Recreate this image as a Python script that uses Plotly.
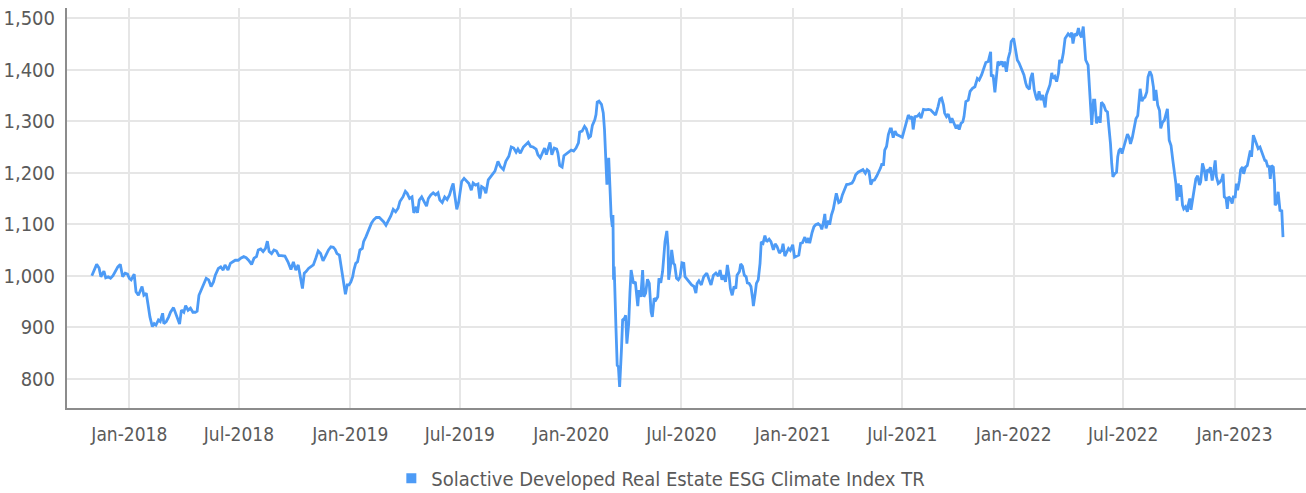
import plotly.graph_objects as go

# Solactive Developed Real Estate ESG Climate Index TR, index level readings
dates = [
    # 2017-2018
    "2017-10-31", "2017-11-08", "2017-11-12", "2017-11-15", "2017-11-20", "2017-11-23", "2017-11-27", "2017-12-01",
    "2017-12-05", "2017-12-09", "2017-12-13", "2017-12-17", "2017-12-21", "2017-12-25", "2017-12-29", "2018-01-01",
    "2018-01-04", "2018-01-09", "2018-01-12", "2018-01-16", "2018-01-19", "2018-01-22", "2018-01-25", "2018-01-29",
    "2018-02-01", "2018-02-04", "2018-02-08", "2018-02-11", "2018-02-14", "2018-02-18", "2018-02-21", "2018-02-25",
    "2018-02-27", "2018-03-03", "2018-03-07", "2018-03-10", "2018-03-15", "2018-03-18", "2018-03-21", "2018-03-25",
    "2018-03-28", "2018-04-01", "2018-04-04", "2018-04-08", "2018-04-12", "2018-04-16", "2018-04-20", "2018-04-23",
    "2018-04-26", "2018-05-01", "2018-05-04", "2018-05-08", "2018-05-12", "2018-05-16", "2018-05-20", "2018-05-23",
    "2018-05-28", "2018-06-01", "2018-06-05", "2018-06-08", "2018-06-13", "2018-06-17", "2018-06-21", "2018-06-25",
    "2018-06-30", "2018-07-04", "2018-07-09", "2018-07-13", "2018-07-17", "2018-07-22", "2018-07-26", "2018-07-30",
    "2018-08-02", "2018-08-06", "2018-08-10", "2018-08-14", "2018-08-17", "2018-08-20", "2018-08-24", "2018-08-28",
    "2018-09-01", "2018-09-05", "2018-09-09",
    "2018-09-15", "2018-09-20", "2018-09-25", "2018-09-29", "2018-10-03", "2018-10-07", "2018-10-11", "2018-10-14",
    "2018-10-17", "2018-10-20", "2018-10-24", "2018-10-28", "2018-11-01", "2018-11-05", "2018-11-09", "2018-11-13",
    "2018-11-17", "2018-11-21", "2018-11-26", "2018-11-30", "2018-12-04", "2018-12-07", "2018-12-10", "2018-12-14",
    "2018-12-16", "2018-12-19", "2018-12-22", "2018-12-24", "2018-12-27", "2018-12-30",
    # 2019
    "2019-01-02", "2019-01-05",
    "2019-01-07", "2019-01-10", "2019-01-13", "2019-01-17", "2019-01-21", "2019-01-23", "2019-01-27", "2019-01-29",
    "2019-02-01", "2019-02-05", "2019-02-09", "2019-02-13", "2019-02-18", "2019-02-22", "2019-02-25", "2019-03-01",
    "2019-03-05", "2019-03-09", "2019-03-13", "2019-03-17", "2019-03-21", "2019-03-24", "2019-03-29", "2019-04-02",
    "2019-04-05", "2019-04-09", "2019-04-13", "2019-04-16", "2019-04-20", "2019-04-22", "2019-04-25", "2019-04-29",
    "2019-05-03", "2019-05-07", "2019-05-10", "2019-05-14", "2019-05-18", "2019-05-22", "2019-05-26", "2019-05-29",
    "2019-06-02", "2019-06-06", "2019-06-10", "2019-06-14", "2019-06-18", "2019-06-20", "2019-06-23", "2019-06-26",
    "2019-06-29", "2019-07-01", "2019-07-04", "2019-07-08", "2019-07-12", "2019-07-16", "2019-07-20", "2019-07-23",
    "2019-07-27", "2019-07-31", "2019-08-03", "2019-08-06", "2019-08-10", "2019-08-13", "2019-08-17", "2019-08-21",
    "2019-08-28", "2019-09-02", "2019-09-06", "2019-09-11", "2019-09-15", "2019-09-20", "2019-09-24", "2019-09-28",
    "2019-10-02", "2019-10-05", "2019-10-09", "2019-10-14", "2019-10-18", "2019-10-22", "2019-10-26", "2019-10-30",
    "2019-11-04", "2019-11-07", "2019-11-11", "2019-11-15", "2019-11-18", "2019-11-21", "2019-11-24", "2019-11-27",
    "2019-11-30", "2019-12-04", "2019-12-08", "2019-12-10", "2019-12-13", "2019-12-17", "2019-12-20", "2019-12-24",
    "2019-12-29",
    # 2020
    "2020-01-01", "2020-01-05", "2020-01-09", "2020-01-13", "2020-01-15", "2020-01-19", "2020-01-23",
    "2020-01-26", "2020-01-30", "2020-02-02", "2020-02-05", "2020-02-09", "2020-02-11", "2020-02-13", "2020-02-16",
    "2020-02-20", "2020-02-23", "2020-02-25", "2020-02-27", "2020-02-29", "2020-03-01", "2020-03-03", "2020-03-05",
    "2020-03-07", "2020-03-09", "2020-03-10", "2020-03-11", "2020-03-12", "2020-03-15", "2020-03-17", "2020-03-19",
    "2020-03-21", "2020-03-24", "2020-03-26", "2020-03-29", "2020-03-31", "2020-04-02", "2020-04-05", "2020-04-07",
    "2020-04-09", "2020-04-11", "2020-04-13", "2020-04-16", "2020-04-18", "2020-04-20", "2020-04-22", "2020-04-25",
    "2020-04-28", "2020-04-30", "2020-05-03", "2020-05-06", "2020-05-09", "2020-05-12", "2020-05-14", "2020-05-17",
    "2020-05-20", "2020-05-23", "2020-05-25", "2020-05-28", "2020-05-31", "2020-06-02", "2020-06-04", "2020-06-07",
    "2020-06-09", "2020-06-10", "2020-06-13", "2020-06-15", "2020-06-18", "2020-06-20", "2020-06-23", "2020-06-26",
    "2020-06-29", "2020-07-02", "2020-07-05", "2020-07-07", "2020-07-11", "2020-07-14", "2020-07-18", "2020-07-22",
    "2020-07-25", "2020-07-27", "2020-07-30",
    "2020-08-03", "2020-08-07", "2020-08-12", "2020-08-15", "2020-08-19", "2020-08-23", "2020-08-27", "2020-08-31",
    "2020-09-03", "2020-09-06", "2020-09-09", "2020-09-12", "2020-09-15", "2020-09-18", "2020-09-20", "2020-09-23",
    "2020-09-26", "2020-09-29", "2020-10-01", "2020-10-05", "2020-10-07", "2020-10-10", "2020-10-13", "2020-10-16",
    "2020-10-18", "2020-10-21", "2020-10-24", "2020-10-27", "2020-10-28", "2020-10-31", "2020-11-02", "2020-11-05",
    "2020-11-08", "2020-11-10", "2020-11-13", "2020-11-16", "2020-11-19", "2020-11-23", "2020-11-26", "2020-11-30",
    "2020-12-03", "2020-12-06", "2020-12-10", "2020-12-14", "2020-12-16", "2020-12-19", "2020-12-22", "2020-12-25",
    "2020-12-28",
    # 2021
    "2021-01-01", "2021-01-04", "2021-01-07", "2021-01-11", "2021-01-14", "2021-01-17", "2021-01-21",
    "2021-01-24", "2021-01-27", "2021-01-29", "2021-02-02", "2021-02-05", "2021-02-08", "2021-02-12", "2021-02-16",
    "2021-02-18", "2021-02-21", "2021-02-23", "2021-02-25", "2021-03-01", "2021-03-03", "2021-03-06", "2021-03-09",
    "2021-03-12", "2021-03-14", "2021-03-18", "2021-03-21", "2021-03-24", "2021-03-28", "2021-03-31", "2021-04-04",
    "2021-04-09", "2021-04-12", "2021-04-15", "2021-04-19", "2021-04-23", "2021-04-27", "2021-05-01", "2021-05-04",
    "2021-05-07", "2021-05-10", "2021-05-13", "2021-05-16", "2021-05-20", "2021-05-23", "2021-05-26", "2021-05-28",
    "2021-05-31", "2021-06-02", "2021-06-05", "2021-06-08", "2021-06-11", "2021-06-13", "2021-06-16", "2021-06-19",
    "2021-06-22", "2021-06-26",
    "2021-07-01", "2021-07-04", "2021-07-08", "2021-07-11", "2021-07-14", "2021-07-17", "2021-07-19", "2021-07-22",
    "2021-07-26", "2021-07-29", "2021-08-01", "2021-08-05", "2021-08-09", "2021-08-13", "2021-08-17", "2021-08-21",
    "2021-08-25", "2021-08-29", "2021-09-01", "2021-09-04", "2021-09-07", "2021-09-09", "2021-09-12", "2021-09-15",
    "2021-09-19", "2021-09-21", "2021-09-25", "2021-09-28", "2021-09-30", "2021-10-03", "2021-10-06", "2021-10-09",
    "2021-10-11", "2021-10-14", "2021-10-18", "2021-10-21", "2021-10-25", "2021-10-29", "2021-11-02", "2021-11-05",
    "2021-11-09", "2021-11-13", "2021-11-16", "2021-11-20", "2021-11-24", "2021-11-25", "2021-11-28", "2021-12-01",
    "2021-12-04", "2021-12-06", "2021-12-09", "2021-12-12", "2021-12-15", "2021-12-17", "2021-12-20", "2021-12-23",
    "2021-12-26", "2021-12-28",
    # 2022
    "2022-01-01", "2022-01-05", "2022-01-07", "2022-01-10", "2022-01-14", "2022-01-18",
    "2022-01-21", "2022-01-23", "2022-01-27", "2022-01-29", "2022-02-01", "2022-02-04", "2022-02-07", "2022-02-09",
    "2022-02-12", "2022-02-15", "2022-02-18", "2022-02-20", "2022-02-22", "2022-02-24", "2022-02-27", "2022-03-02",
    "2022-03-05", "2022-03-07", "2022-03-10", "2022-03-13", "2022-03-16", "2022-03-18", "2022-03-21", "2022-03-24",
    "2022-03-27", "2022-03-29", "2022-04-01", "2022-04-04", "2022-04-07", "2022-04-09", "2022-04-12", "2022-04-15",
    "2022-04-18", "2022-04-20", "2022-04-23", "2022-04-26", "2022-04-28", "2022-04-30", "2022-05-04", "2022-05-06",
    "2022-05-08", "2022-05-10", "2022-05-13", "2022-05-15", "2022-05-18", "2022-05-22",
    "2022-05-24", "2022-05-26", "2022-05-30", "2022-06-02", "2022-06-05", "2022-06-07", "2022-06-10", "2022-06-12",
    "2022-06-14", "2022-06-17", "2022-06-20", "2022-06-22", "2022-06-24", "2022-06-27", "2022-06-29", "2022-07-02",
    "2022-07-05", "2022-07-08", "2022-07-11", "2022-07-13", "2022-07-16", "2022-07-19", "2022-07-22", "2022-07-25",
    "2022-07-27", "2022-07-29", "2022-08-01", "2022-08-03", "2022-08-06", "2022-08-09", "2022-08-11", "2022-08-14",
    "2022-08-17", "2022-08-20", "2022-08-21", "2022-08-24", "2022-08-27", "2022-08-30", "2022-09-01", "2022-09-04",
    "2022-09-07", "2022-09-10", "2022-09-12", "2022-09-15", "2022-09-18", "2022-09-21", "2022-09-23", "2022-09-26",
    "2022-09-28", "2022-09-30", "2022-10-03", "2022-10-04", "2022-10-07", "2022-10-09", "2022-10-12", "2022-10-15",
    "2022-10-17", "2022-10-19", "2022-10-21", "2022-10-24", "2022-10-26", "2022-10-29", "2022-11-01", "2022-11-04",
    "2022-11-06", "2022-11-09", "2022-11-12", "2022-11-15", "2022-11-17", "2022-11-20", "2022-11-22", "2022-11-25",
    "2022-11-27", "2022-11-30", "2022-12-02", "2022-12-05", "2022-12-08", "2022-12-11", "2022-12-13", "2022-12-15",
    "2022-12-18", "2022-12-20", "2022-12-22", "2022-12-25", "2022-12-28", "2022-12-30",
    # 2023
    "2023-01-02", "2023-01-04",
    "2023-01-06", "2023-01-09", "2023-01-11", "2023-01-14", "2023-01-16", "2023-01-19", "2023-01-22", "2023-01-25",
    "2023-01-27", "2023-01-29", "2023-02-01", "2023-02-04", "2023-02-06", "2023-02-09", "2023-02-12", "2023-02-15",
    "2023-02-17", "2023-02-20", "2023-02-22", "2023-02-25", "2023-02-27", "2023-03-01", "2023-03-03", "2023-03-06",
    "2023-03-08", "2023-03-09", "2023-03-11", "2023-03-14", "2023-03-17", "2023-03-20", "2023-03-22",
]

values = [
    # 2017-2018
    1000, 1022, 1015, 998, 1009, 996, 998, 995,
    1000, 1008, 1017, 1022, 998, 1005, 1003, 995,
    992, 1003, 969, 962, 970, 979, 962, 966,
    943, 920, 901, 907, 904, 914, 911, 927,
    907, 911, 920, 929, 938, 929, 922, 906,
    933, 929, 942, 933, 937, 929, 929, 931,
    962, 975, 982, 995, 992, 979, 988, 1001,
    1014, 1017, 1011, 1021, 1011, 1024, 1027, 1030,
    1030, 1034, 1037, 1035, 1030, 1022, 1034, 1037,
    1050, 1052, 1047, 1053, 1067, 1047, 1043, 1050,
    1048, 1039, 1039,
    1038, 1027, 1012, 1027, 1011, 1021, 995, 975,
    1005, 1008, 1014, 1017, 1021, 1034, 1048, 1043,
    1029, 1038, 1050, 1056, 1055, 1051, 1043, 1040,
    1024, 1005, 979, 964, 982, 982,
    # 2019
    988, 998,
    1011, 1024, 1027, 1050, 1053, 1066, 1076, 1082,
    1092, 1102, 1109, 1113, 1113, 1109, 1105, 1098,
    1107, 1116, 1129, 1124, 1131, 1144, 1153, 1164,
    1160, 1150, 1153, 1122, 1134, 1122, 1147, 1153,
    1144, 1135, 1150, 1157, 1161, 1157, 1161, 1147,
    1142, 1153, 1148, 1157, 1173, 1179, 1153, 1129,
    1142, 1160, 1183, 1189, 1183, 1179, 1166, 1180,
    1176, 1178, 1150, 1173, 1170, 1160, 1186, 1192,
    1203, 1222, 1212, 1206, 1222, 1232, 1250, 1248,
    1240, 1246, 1238, 1250, 1255, 1259, 1251, 1250,
    1246, 1235, 1229, 1242, 1248, 1235, 1248, 1259,
    1235, 1248, 1246, 1238, 1214, 1211, 1233, 1237,
    1242,
    # 2020
    1244, 1242, 1248, 1258, 1279, 1281, 1290,
    1285, 1268, 1271, 1292, 1303, 1313, 1337, 1339,
    1333, 1316, 1284, 1232, 1177, 1193, 1229, 1173,
    1115, 1095, 1118, 992, 1018, 897, 826, 823,
    784, 855, 914, 917, 923, 868, 907, 966,
    1011, 998, 985, 988, 966, 941, 972, 959,
    1011, 959, 966, 993, 985, 930, 920, 956,
    953, 959, 995, 986, 1008, 1044, 1066, 1087,
    1056, 992, 1018, 1050, 1024, 1021, 995, 992,
    998, 1025, 1024, 998, 992, 988, 982, 979,
    966, 985, 990,
    982, 998, 1005, 995, 982, 1001, 1005, 999,
    1011, 992, 1001, 988, 1021, 998, 975, 962,
    979, 975, 1001, 1008, 1023, 1018, 1001, 998,
    986, 985, 979, 953, 941, 966, 985, 992,
    1024, 1066, 1063, 1078, 1066, 1071, 1066, 1050,
    1062, 1057, 1044, 1050, 1062, 1038, 1047, 1053,
    1049,
    # 2021
    1060, 1036, 1038, 1040, 1063, 1064, 1075,
    1064, 1073, 1063, 1084, 1095, 1099, 1101, 1097,
    1090, 1105, 1120, 1092, 1107, 1099, 1118, 1129,
    1147, 1160, 1142, 1144, 1157, 1170, 1177, 1178,
    1180, 1186, 1196, 1201, 1203, 1206, 1199, 1206,
    1203, 1177, 1185, 1186, 1194, 1201, 1209, 1216,
    1216, 1244, 1251, 1274, 1285, 1285, 1268, 1281,
    1274, 1272,
    1269, 1282, 1297, 1312, 1306, 1309, 1284, 1309,
    1310, 1314, 1306, 1323, 1322, 1323, 1322, 1317,
    1312, 1328, 1343, 1345, 1332, 1316, 1309, 1314,
    1297, 1306, 1296, 1286, 1293, 1284, 1296, 1299,
    1309, 1338, 1341, 1358, 1364, 1367, 1383, 1380,
    1390, 1406, 1414, 1416, 1435, 1387, 1390, 1356,
    1387, 1416, 1411, 1416, 1406, 1416, 1396, 1422,
    1435, 1455,
    # 2022
    1461, 1435, 1419, 1413, 1403, 1390,
    1374, 1367, 1362, 1383, 1394, 1361, 1347, 1341,
    1358, 1341, 1351, 1341, 1327, 1351, 1361, 1371,
    1394, 1383, 1387, 1377, 1393, 1419, 1413, 1432,
    1461, 1464, 1470, 1466, 1472, 1451, 1470, 1466,
    1481, 1470, 1463, 1484, 1451, 1419, 1409, 1367,
    1322, 1293, 1341, 1341, 1296, 1309,
    1297, 1337, 1331, 1321, 1318, 1298, 1256, 1218,
    1192, 1198, 1201, 1231, 1243, 1247, 1237, 1250,
    1263, 1275, 1268, 1256, 1268, 1289, 1305, 1311,
    1340, 1363, 1339, 1344, 1347, 1357, 1386, 1397,
    1389, 1366, 1340, 1361, 1331, 1321, 1286, 1298,
    1302, 1318, 1324, 1263, 1253, 1224, 1205, 1179,
    1146, 1179, 1153, 1176, 1137, 1130, 1134, 1124,
    1140, 1150, 1128, 1153, 1172, 1188, 1194, 1176,
    1182, 1218, 1205, 1184, 1206, 1203, 1211, 1185,
    1198, 1224, 1192, 1179, 1182, 1188, 1198, 1153,
    1150, 1130, 1153, 1150, 1140, 1153,
    # 2023
    1153, 1179,
    1166, 1185, 1206, 1211, 1198, 1211, 1214, 1232,
    1243, 1231, 1273, 1263, 1256, 1247, 1250, 1240,
    1237, 1224, 1223, 1211, 1214, 1188, 1214, 1211,
    1179, 1137, 1140, 1163, 1127, 1126, 1075,
]

assert len(dates) == len(values), (len(dates), len(values))

series_name = "Solactive Developed Real Estate ESG Climate Index TR"
y_ticks = [800, 900, 1000, 1100, 1200, 1300, 1400, 1500]

LINE_BLUE = "#4d9bf6"
GRID = "#e6e6e6"
AXIS = "#8c8c8c"
TEXT = "#5a5a5a"
FONT = "Liberation Sans Narrow, DejaVu Sans Condensed, Roboto, sans-serif"

fig = go.Figure()

fig.add_trace(go.Scatter(
    x=dates, y=values, mode="lines", name=series_name,
    line=dict(color=LINE_BLUE, width=2.8),
    showlegend=False,
))

# legend entry with a square swatch
fig.add_trace(go.Scatter(
    x=[None], y=[None], mode="markers", name=series_name,
    marker=dict(symbol="square", size=10, color=LINE_BLUE),
    showlegend=True,
))

fig.update_layout(
    width=1306, height=493, autosize=False,
    margin=dict(l=67, r=0, t=8, b=85),
    paper_bgcolor="white", plot_bgcolor="white",
    font=dict(family=FONT, size=20, color=TEXT),
    legend=dict(
        orientation="h", xref="container", yref="container",
        x=0.506, xanchor="center", y=0.03, yanchor="middle",
        font=dict(family=FONT, size=20, color=TEXT),
        itemwidth=30,
    ),
)

fig.update_xaxes(
    type="date",
    range=["2017-09-20", "2023-04-29"],
    tick0="2018-01-01", dtick="M6", tickformat="%b-%Y",
    showgrid=True, gridcolor=GRID, gridwidth=2,
    showline=True, linecolor=AXIS, linewidth=2,
    ticks="", ticklabelstandoff=8,
    tickfont=dict(family=FONT, size=19, color=TEXT),
    zeroline=False,
)

fig.update_yaxes(
    range=[743, 1520],
    tickvals=y_ticks, tickformat=",",
    showgrid=True, gridcolor=GRID, gridwidth=2,
    showline=True, linecolor=AXIS, linewidth=2,
    ticks="", ticklabelstandoff=6,
    tickfont=dict(family=FONT, size=20, color=TEXT),
    zeroline=False,
)

fig.write_html("out.html")
